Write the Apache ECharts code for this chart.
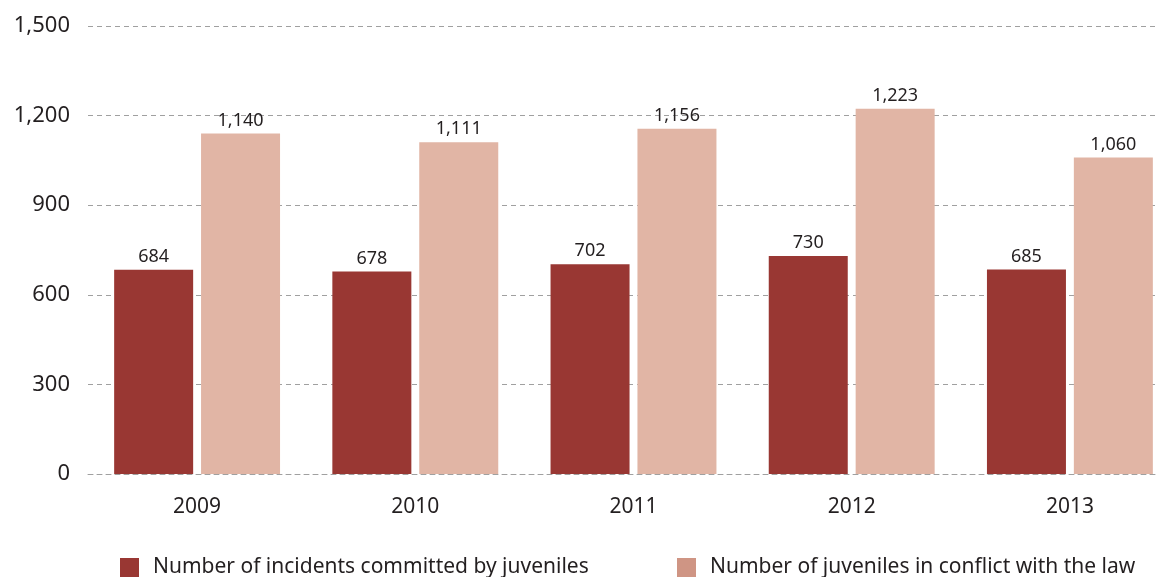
<!DOCTYPE html>
<html>
<head>
<meta charset="utf-8">
<script src="https://cdn.jsdelivr.net/npm/echarts@6/dist/echarts.min.js"></script>
<style>
html, body { margin: 0; padding: 0; background: #fff; }
#chart { width: 1157px; height: 577px; }
</style>
</head>
<body>
<div id="chart"></div>
<script>
var years = ['2009', '2010', '2011', '2012', '2013'];
var incidents = [684, 678, 702, 730, 685];
var juveniles = [1140, 1111, 1156, 1223, 1060];
var seriesNames = ['Number of incidents committed by juveniles', 'Number of juveniles in conflict with the law'];

var dom = document.getElementById('chart');
var myChart = echarts.init(dom);

function fmt(v) {
    return Number(v).toLocaleString('en-US');
}

var font = 'Noto Sans';

option = {
    animation: false,
    textStyle: { fontFamily: font },
    grid: {
        left: 88,
        right: -22,
        top: 26,
        bottom: 103,
        containLabel: false,
        outerBoundsMode: 'none'
    },
    legend: [
        {
            left: 115,
            top: 552,
            itemWidth: 19,
            itemHeight: 19,
            itemGap: 0,
            textStyle: { fontSize: 21, color: '#231f20', fontFamily: font, padding: [0, 0, 0, 9] },
            data: [{ name: seriesNames[0], icon: 'rect', itemStyle: { color: '#993733' } }]
        },
        {
            left: 672,
            top: 552,
            itemWidth: 19,
            itemHeight: 19,
            itemGap: 0,
            textStyle: { fontSize: 21, color: '#231f20', fontFamily: font, padding: [0, 0, 0, 9] },
            data: [{ name: seriesNames[1], icon: 'rect', itemStyle: { color: '#cf9584' } }]
        }
    ],
    xAxis: {
        type: 'category',
        data: years,
        axisLine: { show: true, lineStyle: { color: '#a0a0a0', type: [5, 4], width: 1 } },
        axisTick: { show: false },
        axisLabel: { fontSize: 21, color: '#231f20', margin: 23, fontFamily: font }
    },
    yAxis: {
        type: 'value',
        min: 0,
        max: 1500,
        interval: 300,
        axisLine: { show: false },
        axisTick: { show: false },
        axisLabel: {
            fontSize: 22,
            color: '#231f20',
            margin: 18,
            fontFamily: font,
            formatter: function (v) { return fmt(v); }
        },
        splitLine: { lineStyle: { color: '#a0a0a0', type: [5, 4], width: 1 } }
    },
    series: [
        {
            name: seriesNames[0],
            type: 'bar',
            data: incidents,
            barWidth: 79,
            barGap: '10%',
            itemStyle: { color: '#993733' },
            label: {
                show: true,
                position: 'top',
                distance: 4,
                fontSize: 18,
                color: '#231f20',
                fontFamily: font,
                formatter: function (p) { return fmt(p.value); }
            }
        },
        {
            name: seriesNames[1],
            type: 'bar',
            data: juveniles,
            barWidth: 79,
            barGap: '10%',
            itemStyle: { color: '#e1b5a5' },
            label: {
                show: true,
                position: 'top',
                distance: 4,
                fontSize: 18,
                color: '#231f20',
                fontFamily: font,
                formatter: function (p) { return fmt(p.value); }
            }
        }
    ]
};

if (option && typeof option === "object") {
    myChart.setOption(option, true);
}
</script>
</body>
</html>
